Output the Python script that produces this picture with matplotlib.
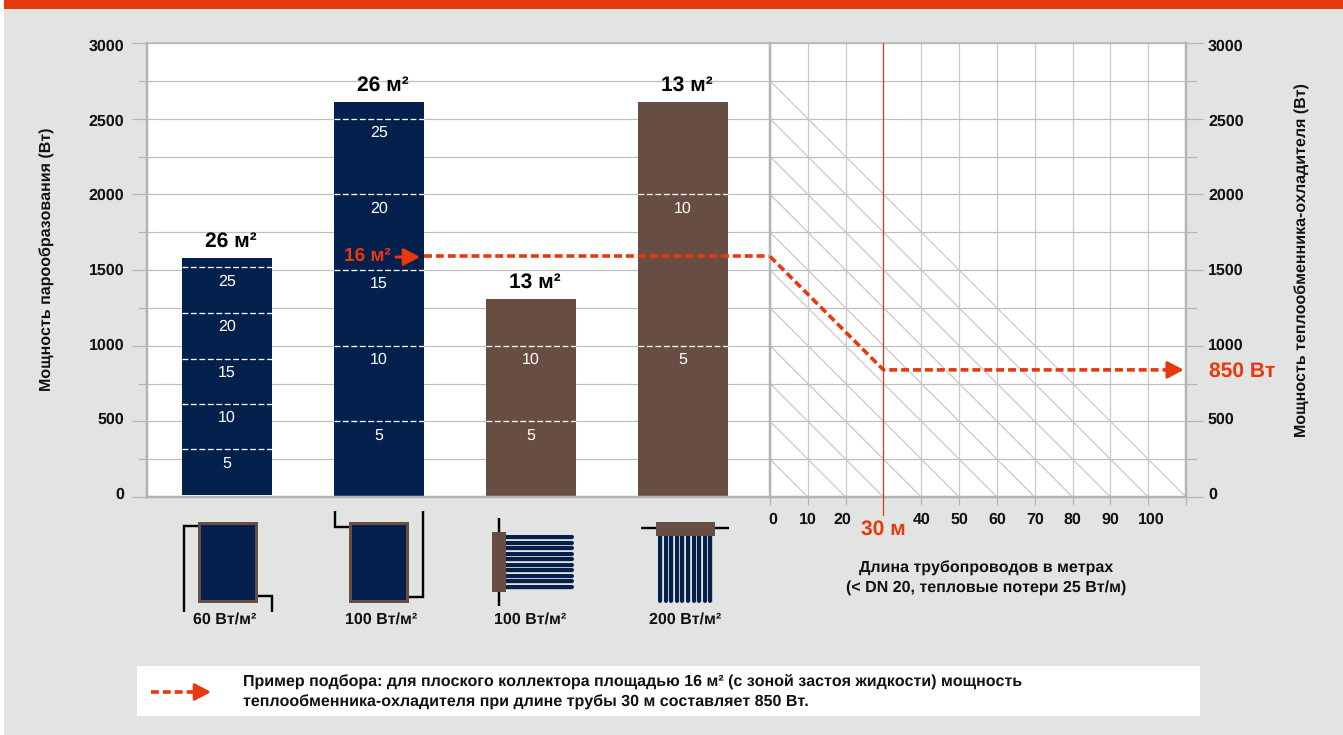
"""Подбор теплообменника-охладителя: bars for collectors plus pipe-length nomogram."""
import matplotlib
matplotlib.use("Agg")
import matplotlib.pyplot as plt
from matplotlib.patches import Rectangle
from matplotlib.transforms import ScaledTranslation

plt.rcParams["font.family"] = ["Liberation Sans", "DejaVu Sans"]
plt.rcParams["text.hinting"] = "no_hinting"
plt.rcParams["text.hinting_factor"] = 1

# data
bar_tops = [1580, 2610, 1307, 2610]
bar_bottoms = [10, 0, 0, 0]
bar_titles = ["26 м²", "26 м²", "13 м²", "13 м²"]
area_levels = [
    [315, 617, 915, 1215, 1517],
    [500, 1000, 1500, 2000, 2500],
    [500, 1000],
    [1000, 2000],
]
area_labels = [
    ["5", "10", "15", "20", "25"],
    ["5", "10", "15", "20", "25"],
    ["5", "10"],
    ["5", "10"],
]
collector_labels = ["60 Вт/м²", "100 Вт/м²", "100 Вт/м²", "200 Вт/м²"]
power_major = [0, 500, 1000, 1500, 2000, 2500, 3000]
power_minor = [250, 750, 1250, 1750, 2250, 2750]
pipe_ticks = [0, 10, 20, 30, 40, 50, 60, 70, 80, 90, 100, 110]
pipe_tick_labels = ["0", "10", "20", "", "40", "50", "60", "70", "80", "90", "100", ""]
diagonal_starts = [250, 500, 750, 1000, 1250, 1500, 1750, 2000, 2250, 2500, 2750]
heat_loss_per_m = 25
example_length = [0, 30, 107]
example_power = [1590, 840, 840]

NAVY = "#04204c"
BROWN = "#674d42"
ORANGE = "#e8380d"
BG = "#e2e4e3"
GRID = "#bcbebd"
SPINE = "#b3b5b4"
INK = "#111111"

W, H = 1343, 735
fig = plt.figure(figsize=(W / 100, H / 100), dpi=100, facecolor=BG)


def px_axes(left, right, top, bottom):
    return fig.add_axes([left / W, 1 - bottom / H, (right - left) / W, (bottom - top) / H])


def px(n):
    return n * 0.72


def nudge(label, dx=0, dy=0):
    # tick labels in the reference sit a few pixels off their ticks
    label.set_transform(label.get_transform() + ScaledTranslation(dx / 100, dy / 100, fig.dpi_scale_trans))


ax_bar = px_axes(146.5, 770, 43, 497)
ax_pipe = px_axes(770, 1186, 43, 497)
overlay = fig.add_axes([0, 0, 1, 1], zorder=5)
overlay.set_xlim(0, W)
overlay.set_ylim(H, 0)
overlay.axis("off")

# page furniture
overlay.add_patch(Rectangle((0, 0), 4, H, color="white", lw=0))
overlay.add_patch(Rectangle((4, 0), W - 4, 9, color=ORANGE, lw=0))
overlay.add_patch(Rectangle((137, 666), 1063, 50, color="white", lw=0))

# left part: bars
bar_x = list(range(len(bar_tops)))
ax_bar.set_xlim((146.5 - 227) / 152, (770 - 227) / 152)
ax_bar.set_ylim(0, 3000)
ax_bar.set_axisbelow(True)
ax_bar.set_yticks(power_major)
ax_bar.set_yticks(power_minor, minor=True)
ax_bar.set_xticks([])
ax_bar.grid(axis="y", which="both", color=GRID, lw=px(1.2))
ax_bar.tick_params(axis="y", which="major", length=px(15), width=px(1.2), color=SPINE,
                   labelsize=11.8, labelcolor=INK, pad=px(7))
ax_bar.tick_params(axis="y", which="minor", length=px(9), width=px(1.2), color=SPINE)
for lab, v in zip(ax_bar.get_yticklabels(), power_major):
    lab.set_fontweight("bold")
    nudge(lab, dy=4 - 6 * v / 3000)

colors = [NAVY, NAVY, BROWN, BROWN]
heights = [t - b for t, b in zip(bar_tops, bar_bottoms)]
ax_bar.bar(bar_x, heights, bottom=bar_bottoms, width=90 / 152, color=colors, zorder=2)
for i, (levels, labels) in enumerate(zip(area_levels, area_labels)):
    half = 45 / 152
    for level, label in zip(levels, labels):
        ax_bar.plot([i - half, i + half], [level, level], color="white", lw=px(1.3),
                    dashes=(4.5, 2), zorder=3)
        ax_bar.annotate(label, (i, level), xytext=(0, px(-14)), textcoords="offset points",
                        color="white", fontsize=11.2, ha="center", va="center", zorder=4)
    ax_bar.annotate(bar_titles[i], (i, bar_tops[i]), xytext=(px(4), px(17)),
                    textcoords="offset points", color="black", fontsize=15, fontweight="bold",
                    ha="center", va="center")

# right part: pipe length nomogram
ax_pipe.set_xlim(0, 110)
ax_pipe.set_ylim(0, 3000)
ax_pipe.set_axisbelow(True)
ax_pipe.set_xticks(pipe_ticks, pipe_tick_labels)
ax_pipe.yaxis.tick_right()
ax_pipe.set_yticks(power_major)
ax_pipe.set_yticks(power_minor, minor=True)
ax_pipe.grid(axis="y", which="both", color=GRID, lw=px(1.2))
ax_pipe.grid(axis="x", color="#c8cac9", lw=px(1.3))
ax_pipe.tick_params(axis="y", which="major", length=px(17), width=px(1.2), color=SPINE,
                    labelsize=11.8, labelcolor=INK, pad=px(5))
ax_pipe.tick_params(axis="y", which="minor", length=px(11), width=px(1.2), color=SPINE)
ax_pipe.tick_params(axis="x", length=px(8), width=px(1.2), color=SPINE,
                    labelsize=11.4, labelcolor=INK, pad=px(7))
for lab, v in zip(ax_pipe.get_yticklabels(), power_major):
    lab.set_fontweight("bold")
    nudge(lab, dy=4 - 6 * v / 3000)
x_nudges = [3, 0, -3, 0, 0, 0, 0, 0, 0, 0, 3, 0]
for lab, dx in zip(ax_pipe.get_xticklabels(), x_nudges):
    lab.set_fontweight("bold")
    nudge(lab, dx=dx)

for start in diagonal_starts:
    ax_pipe.plot([0, start / heat_loss_per_m], [start, 0], color="#c6c8c7", lw=px(1.2), zorder=1.5)

ax_pipe.plot([30, 30], [3000, -120], color="#d83a12", lw=px(1.2), clip_on=False, zorder=3)

for ax in (ax_bar, ax_pipe):
    for side in ("top", "bottom", "left", "right"):
        ax.spines[side].set_color(SPINE)
    ax.spines["top"].set_linewidth(px(1.5))
    ax.spines["bottom"].set_linewidth(px(2.5))
    ax.spines["left"].set_linewidth(px(2.5))
    ax.spines["right"].set_linewidth(px(2.5))
ax_bar.spines["right"].set_visible(False)

# worked example, dashed orange path
dash = dict(color=ORANGE, lw=px(3.6), dashes=(2.2, 1.1), solid_capstyle="butt")
ax_bar.plot([1 + 45 / 152, ax_bar.get_xlim()[1]], [example_power[0]] * 2, clip_on=False, zorder=4, **dash)
ax_pipe.plot(example_length, example_power, clip_on=False, zorder=4, **dash)


def arrow_head(ax, tip, tail, size=11):
    ax.annotate("", xy=tip, xytext=tail, zorder=6,
                arrowprops=dict(arrowstyle=f"-|>,head_length={size * 0.045:.2f},head_width={size * 0.024:.2f}",
                                color=ORANGE, lw=px(3), shrinkA=0, shrinkB=0, mutation_scale=20))


arrow_head(ax_pipe, (109.4, example_power[-1]), (106, example_power[-1]))
arrow_head(overlay, (420, 257), (396, 257))
overlay.plot([151, 200], [692, 692], **dash)
arrow_head(overlay, (211, 692), (198, 692))


def t(x, y, s, **kw):
    kw.setdefault("ha", "center")
    kw.setdefault("va", "center")
    kw.setdefault("fontweight", "bold")
    kw.setdefault("color", INK)
    overlay.text(x, y, s, **kw)


t(47, 259.5, "Мощность парообразования (Вт)", rotation=90, fontsize=11.6)
t(1302, 260, "Мощность теплообменника-охладителя (Вт)", rotation=90, fontsize=11.6)
t(367, 256, "16 м²", color=ORANGE, fontsize=14)
t(1242, 371, "850 Вт", color=ORANGE, fontsize=15)
t(883, 529, "30 м", color=ORANGE, fontsize=15)
t(986, 568, "Длина трубопроводов в метрах", fontsize=11.6)
t(986, 588, "(< DN 20, тепловые потери 25 Вт/м)", fontsize=11.6)
t(243, 682, "Пример подбора: для плоского коллектора площадью 16 м² (с зоной застоя жидкости) мощность",
  ha="left", fontsize=11.87)
t(243, 702, "теплообменника-охладителя при длине трубы 30 м составляет 850 Вт.", ha="left", fontsize=11.87)
for x, label in zip([225, 381.5, 530, 685], collector_labels):
    t(x, 620, label, fontsize=11.6)


# collector pictograms, pixel coordinates of the page
def pipe(xs, ys, lw=2.4):
    overlay.plot(xs, ys, color="black", lw=px(lw), solid_capstyle="butt", solid_joinstyle="miter")


def panel(x0, x1, y0, y1):
    overlay.add_patch(Rectangle((x0, y0), x1 - x0, y1 - y0, facecolor=NAVY, edgecolor=BROWN, lw=px(3), zorder=3))


pipe([198, 184, 184], [526, 526, 612])
pipe([257, 272, 272], [596, 596, 612])
panel(199, 256, 523, 601)
pipe([349, 335, 335], [527, 527, 511])
pipe([408, 423, 423], [597, 597, 511])
panel(350, 407, 523, 601)

pipe([498.5, 498.5], [518, 606])
for k in range(10):
    y = 537 + k * 5.55
    overlay.plot([506, 572], [y + 2, y + 2], color="#b9b6ae", lw=px(1.5), zorder=2)
    overlay.plot([506, 572], [y, y], color=NAVY, lw=px(4), solid_capstyle="round", zorder=3)
overlay.add_patch(Rectangle((492, 532), 14, 60, color=BROWN, lw=0, zorder=4))

pipe([641, 729], [528, 528])
for k in range(10):
    x = 660 + k * 5.6
    overlay.plot([x + 2, x + 2], [536, 601], color="#b9b6ae", lw=px(1.5), zorder=2)
    overlay.plot([x, x], [536, 601], color=NAVY, lw=px(4), solid_capstyle="round", zorder=3)
overlay.add_patch(Rectangle((656, 522), 59, 14, color=BROWN, lw=0, zorder=4))

fig.savefig("out.png", dpi=100, facecolor=BG)
